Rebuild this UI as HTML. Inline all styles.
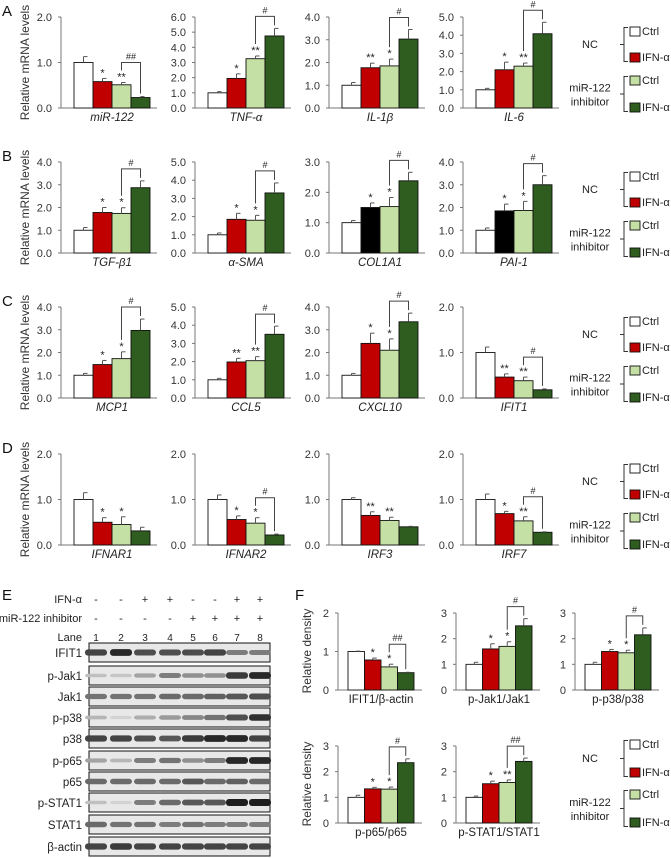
<!DOCTYPE html>
<html><head><meta charset="utf-8">
<style>
html,body{margin:0;padding:0;background:#fff;}
svg{display:block;font-family:"Liberation Sans",Arial,sans-serif;}
</style></head>
<body>
<svg id="fig" width="671" height="858" viewBox="0 0 671 858" xmlns="http://www.w3.org/2000/svg"></svg>
<script>
// ---------- data ----------
const groupColors = ["#ffffff","#c00000","#c5e0a4","#2e5d1f"];
const rowTops = [17,162,307,454];
const panelXs = [61,195,329,463];

const namesA = ["miR-122","TNF-α","IL-1β","IL-6"];
const maxA = [2,6,4,5];
const valsA1 = [1.0,0.58,0.51,0.23]; const errA1 = [0.13,0.07,0.05,0.02]; const starA1 = ["","*","**",""]; 
const valsA2 = [1.0,1.95,3.25,4.75]; const errA2 = [0.08,0.3,0.18,0.5]; const starA2 = ["","*","**",""];
const valsA3 = [1.0,1.77,1.85,3.03]; const errA3 = [0.12,0.2,0.3,0.42]; const starA3 = ["","**","*",""];
const valsA4 = [1.0,2.1,2.3,4.08]; const errA4 = [0.08,0.42,0.17,0.63]; const starA4 = ["","*","**",""];
const hashA = ["##","#","#","#"];

const namesB = ["TGF-β1","α-SMA","COL1A1","PAI-1"];
const maxB = [4,5,3,4];
const valsB1 = [1.0,1.78,1.74,2.87]; const errB1 = [0.12,0.22,0.25,0.3]; const starB1 = ["","*","*",""];
const valsB2 = [1.0,1.85,1.8,3.3]; const errB2 = [0.1,0.33,0.27,0.55]; const starB2 = ["","*","*",""];
const valsB3 = [1.0,1.5,1.53,2.38]; const errB3 = [0.07,0.15,0.3,0.28]; const starB3 = ["","*","*",""];
const valsB4 = [1.0,1.85,1.87,3.0]; const errB4 = [0.1,0.3,0.4,0.4]; const starB4 = ["","*","*",""];
const hashB = ["#","#","#","#"];

const namesC = ["MCP1","CCL5","CXCL10","IFIT1"];
const maxC = [4,5,4,2];
const valsC1 = [1.0,1.47,1.73,2.97]; const errC1 = [0.08,0.18,0.3,0.5]; const starC1 = ["","*","*",""];
const valsC2 = [1.0,1.98,2.05,3.5]; const errC2 = [0.08,0.2,0.22,0.45]; const starC2 = ["","**","**",""];
const valsC3 = [1.0,2.4,2.1,3.35]; const errC3 = [0.08,0.45,0.5,0.38]; const starC3 = ["","*","*",""];
const valsC4 = [1.0,0.46,0.38,0.18]; const errC4 = [0.12,0.07,0.08,0.02]; const starC4 = ["","**","**",""];
const hashC = ["#","#","#","#"];

const namesD = ["IFNAR1","IFNAR2","IRF3","IRF7"];
const maxD = [2,2,2,2];
const valsD1 = [1.0,0.5,0.45,0.31]; const errD1 = [0.15,0.1,0.17,0.08]; const starD1 = ["","*","*",""];
const valsD2 = [1.0,0.56,0.48,0.22]; const errD2 = [0.1,0.08,0.12,0.02]; const starD2 = ["","*","*",""];
const valsD3 = [1.0,0.65,0.54,0.4]; const errD3 = [0.04,0.08,0.07,0.01]; const starD3 = ["","**","**",""];
const valsD4 = [1.0,0.69,0.53,0.28]; const errD4 = [0.12,0.05,0.09,0.01]; const starD4 = ["","*","**",""];
const hashD = ["","#","","#"];

const namesF = ["IFIT1/β-actin","p-Jak1/Jak1","p-p38/p38","p-p65/p65","p-STAT1/STAT1"];
const maxF = [2,3,3,3,3];
const valsF1 = [1.0,0.78,0.6,0.45]; const errF1 = [0.01,0.05,0.07,0.01]; const starF1 = ["","*","*",""];
const valsF2 = [1.0,1.6,1.7,2.5]; const errF2 = [0.08,0.2,0.18,0.28]; const starF2 = ["","*","*",""];
const valsF3 = [1.0,1.5,1.45,2.15]; const errF3 = [0.08,0.08,0.1,0.27]; const starF3 = ["","*","*",""];
const valsF4 = [1.0,1.33,1.32,2.35]; const errF4 = [0.08,0.06,0.08,0.15]; const starF4 = ["","*","*",""];
const valsF5 = [1.0,1.53,1.58,2.4]; const errF5 = [0.05,0.1,0.1,0.13]; const starF5 = ["","*","**",""];
const hashF = ["##","#","#","#","##"];

const blotNames = ["IFIT1","p-Jak1","Jak1","p-p38","p38","p-p65","p65","p-STAT1","STAT1","β-actin"];
const ifnSigns = ["-","-","+","+","-","-","+","+"];
const inhSigns = ["-","-","-","-","+","+","+","+"];
const bandIFIT1 = [0.8,0.95,0.75,0.75,0.75,0.8,0.5,0.5];
const bandPJak1 = [0.15,0.12,0.3,0.5,0.4,0.4,0.85,0.95];
const bandJak1 = [0.55,0.55,0.55,0.6,0.6,0.65,0.7,0.75];
const bandPp38 = [0.2,0.05,0.25,0.35,0.45,0.55,0.75,0.9];
const bandP38 = [0.8,0.8,0.75,0.7,0.85,0.95,0.95,0.8];
const bandPp65 = [0.3,0.2,0.5,0.55,0.4,0.5,0.95,0.95];
const bandP65 = [0.6,0.6,0.6,0.6,0.7,0.6,0.65,0.6];
const bandPSTAT1 = [0.15,0.05,0.5,0.6,0.7,0.7,1.0,1.0];
const bandSTAT1 = [0.6,0.55,0.55,0.5,0.55,0.5,0.5,0.5];
const bandActin = [0.8,0.85,0.8,0.8,0.8,0.8,0.8,0.8];
const bandSets = [bandIFIT1,bandPJak1,bandJak1,bandPp38,bandP38,bandPp65,bandP65,bandPSTAT1,bandSTAT1,bandActin];

// ---------- helpers ----------
const svg = document.getElementById('fig');
const NS = "http://www.w3.org/2000/svg";
function mk(tag, attrs, parent){
  const e = document.createElementNS(NS, tag);
  for (const k in attrs) e.setAttribute(k, attrs[k]);
  (parent||svg).appendChild(e);
  return e;
}
function txt(x,y,s,size,anchor,parent,extra){
  const t = mk('text',{x:x,y:y,'font-size':size,'text-anchor':anchor||'start',fill:'#222'},parent);
  if (extra) for (const k in extra) t.setAttribute(k, extra[k]);
  t.textContent = s;
  return t;
}

function drawPanel(opt){
  const g = mk('g',{});
  
  
  const ax = opt.x, top = opt.top, bot = opt.bot, max = opt.max;
  const yS = v => bot - (v/max)*(bot-top);
  const xS = i => ax + opt.off + i*opt.bw;
  const yAxis = mk('line',{x1:ax,y1:top,x2:ax,y2:bot,stroke:'#777','stroke-width':1},g);
  
  
  const xAxis = mk('line',{x1:ax,y1:bot,x2:ax+opt.len,y2:bot,stroke:'#777','stroke-width':1},g);
  
  
  for (let v=0; v<=max+1e-9; v+=opt.step){
    const y = yS(v);
    mk('line',{x1:ax-3,y1:y,x2:ax,y2:y,stroke:'#777'},g);
    const t = txt(ax-9,y+4,opt.dec? v.toFixed(1): String(v),11,'end',g,{fill:'#333'});
    
    
  }
  const tops = [];
  opt.vals.forEach((v,i)=>{
    const x = xS(i), y = yS(v), c = opt.colors[i];
    const r = mk('rect',{x:x,y:y,width:opt.bw,height:bot-y,fill:c,stroke:'#111','stroke-width':0.9},g);
    
    
    const ey = yS(v+opt.errs[i]);
    const cx = x+opt.bw/2;
    mk('line',{x1:cx,y1:y,x2:cx,y2:ey,stroke:'#555','stroke-width':1},g);
    mk('line',{x1:cx,y1:ey,x2:cx+4,y2:ey,stroke:'#555','stroke-width':1},g);
    tops.push(ey);
    if (opt.stars[i]){
      const s = txt(cx,ey-2,opt.stars[i],11,'middle',g);
      
      
    }
  });
  if (opt.hash){
    const lx = xS(2)+opt.bw/2, rx = xS(3)+opt.bw/2;
    const by = Math.min(tops[2]-(opt.stars[2]?12:4), tops[3]-4) - 8;
    const p = mk('path',{d:`M${lx},${tops[2]-(opt.stars[2]?12:3)} V${by} H${rx} V${tops[3]-3}`,fill:'none',stroke:'#444','stroke-width':1},g);
    
    
    const h = txt((lx+rx)/2,by-3,opt.hash,9,'middle',g);
    
    
  }
  const lab = txt(ax+opt.off+2*opt.bw, bot+13, opt.label, 11.5, 'middle', g, opt.italic?{'font-style':'italic'}:{});
  
  
}

function drawLegend(top, offs, name){
  const g = mk('g',{});
  
  
  const labels = ["Ctrl","IFN-α","Ctrl","IFN-α"];
  const ys = offs.map(o=>top+o);
  ys.forEach((y,i)=>{
    mk('rect',{x:630,y:y,width:10,height:9,fill:groupColors[i],stroke:'#111','stroke-width':0.9},g);
    txt(642,y+8,labels[i],11,'start',g);
  });
  [[0,1],[2,3]].forEach(([a,b])=>{
    const y1=ys[a]+4.5, y2=ys[b]+4.5, m=(y1+y2)/2;
    mk('path',{d:`M628,${y1-4} H624 V${y2+4} H628 M624,${m} H620`,fill:'none',stroke:'#333'},g);
  });
  const m1=(ys[0]+ys[1])/2+9, m2=(ys[2]+ys[3])/2+9;
  txt(590,m1-1,"NC",11,'middle',g);
  txt(590,m2-7,"miR-122",11,'middle',g);
  txt(590,m2+7,"inhibitor",11,'middle',g);
}

// ---------- rows A-D ----------
const rows = [
  {letter:"A",names:namesA,max:maxA,vals:[valsA1,valsA2,valsA3,valsA4],errs:[errA1,errA2,errA3,errA4],stars:[starA1,starA2,starA3,starA4],hash:hashA},
  {letter:"B",names:namesB,max:maxB,vals:[valsB1,valsB2,valsB3,valsB4],errs:[errB1,errB2,errB3,errB4],stars:[starB1,starB2,starB3,starB4],hash:hashB},
  {letter:"C",names:namesC,max:maxC,vals:[valsC1,valsC2,valsC3,valsC4],errs:[errC1,errC2,errC3,errC4],stars:[starC1,starC2,starC3,starC4],hash:hashC},
  {letter:"D",names:namesD,max:maxD,vals:[valsD1,valsD2,valsD3,valsD4],errs:[errD1,errD2,errD3,errD4],stars:[starD1,starD2,starD3,starD4],hash:hashD}
];
rows.forEach((r,ri)=>{
  const top = rowTops[ri], bot = top+91;
  const L = txt(2,top-1,r.letter,15,'start',null,{fill:'#111'});
  
  
  const yl = txt(0,0,"Relative mRNA levels",12,'middle',null,{transform:`translate(29,${(top+bot)/2}) rotate(-90)`,fill:'#333'});
  
  
  r.names.forEach((n,pi)=>{
    let cols = groupColors.slice();
    if (ri===1 && pi>=2) cols[1] = "#000000";
    drawPanel({name:'chart-'+n.toLowerCase().replace(/[^a-z0-9]+/g,'-'),x:panelXs[pi],top:top,bot:bot,max:r.max[pi],step:1,dec:true,
      vals:r.vals[pi],errs:r.errs[pi],stars:r.stars[pi],hash:r.hash[pi],colors:cols,label:n,italic:true,bw:19,off:13,len:96});
  });
  drawLegend(top,[10,36,59,86],'legend-row-'+r.letter.toLowerCase());
});

// ---------- E: western blot ----------
(function(){
  const g = mk('g',{});
  
  
  txt(2,600,"E",15,'start',g,{fill:'#111'});
  const lanes=[96,121,145,170,193,215,237,260];
  txt(82,603,"IFN-α",11,'end',g);
  txt(82,622,"miR-122 inhibitor",11,'end',g);
  txt(82,641,"Lane",11,'end',g);
  lanes.forEach((x,i)=>{
    txt(x,603,ifnSigns[i],11,'middle',g);
    txt(x,622,inhSigns[i],11,'middle',g);
    txt(x,641,String(i+1),10,'middle',g);
  });
  const blotTops=[643,666,687,708,729,751,772,793,815,837];
  blotNames.forEach((n,bi)=>{
    const y=blotTops[bi], h=19;
    const bg = mk('rect',{x:89,y:y,width:181,height:h,fill:'#e8e8e8',stroke:'#111','stroke-width':1},g);
    
    
    bandSets[bi].forEach((v,li)=>{
      const shade = Math.round(220 - v*190);
      mk('rect',{x:lanes[li]-11,y:y+h/2-(1.5+v*2),width:22,height:3+v*4,rx:3,fill:`rgb(${shade},${shade},${shade})`},g);
    });
    txt(82,y+14,n,11.5,'end',g);
  });
})();

// ---------- F ----------
const fLayout = [{x:338,top:613},{x:456,top:613},{x:575,top:613},{x:338,top:746},{x:456,top:746}];
txt(295,600,"F",15,'start',null,{fill:'#111'});
[613,746].forEach(t=>{
  const y = txt(0,0,"Relative density",12,'middle',null,{transform:`translate(311,${t+38}) rotate(-90)`,fill:'#333'});
  
  
});
const fVals=[valsF1,valsF2,valsF3,valsF4,valsF5], fErrs=[errF1,errF2,errF3,errF4,errF5], fStars=[starF1,starF2,starF3,starF4,starF5];
namesF.forEach((n,i)=>{
  const L=fLayout[i];
  drawPanel({name:'density-chart-'+(i+1),x:L.x,top:L.top,bot:L.top+77,max:maxF[i],step:1,dec:false,
    vals:fVals[i],errs:fErrs[i],stars:fStars[i],hash:hashF[i],colors:groupColors,label:n,italic:false,bw:16.5,off:10,len:84});
});
drawLegend(740,[0,28,50,78],'legend-f');
</script>
</body></html>
